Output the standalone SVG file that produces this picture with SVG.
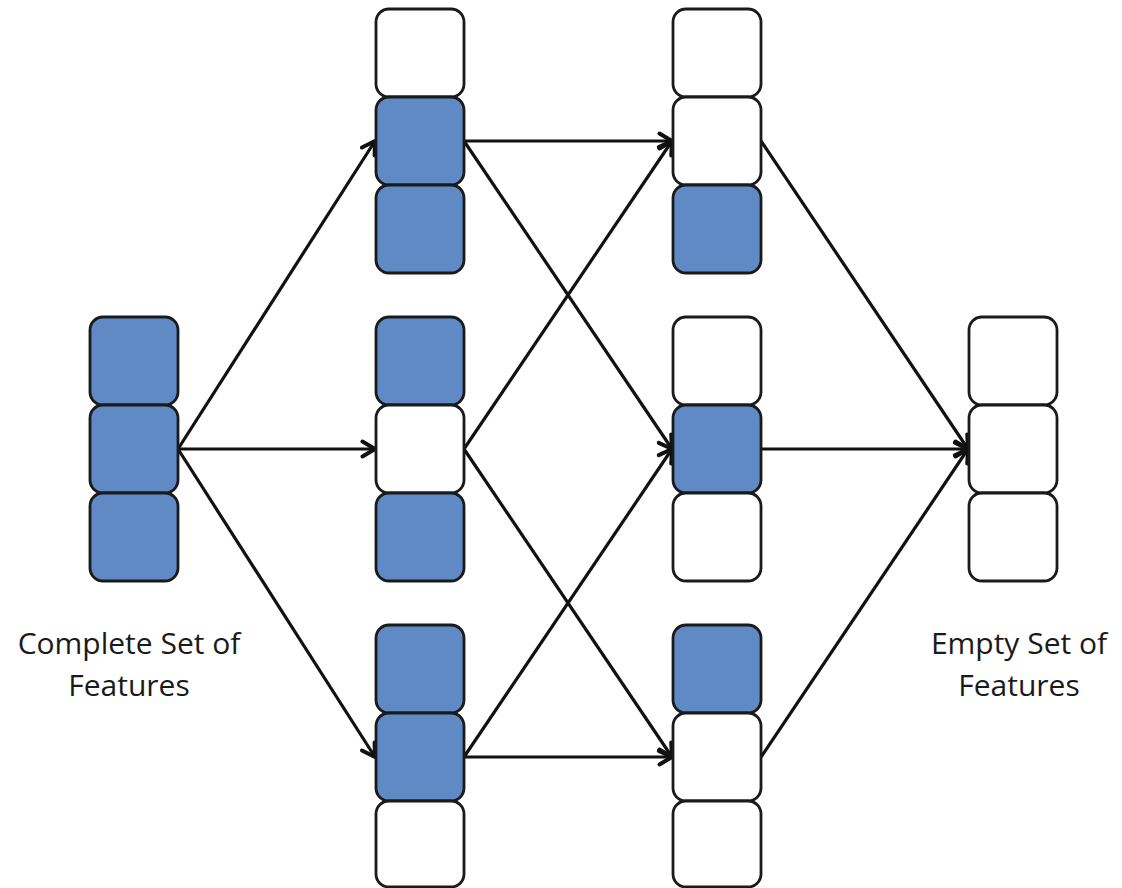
<svg xmlns="http://www.w3.org/2000/svg" width="1122" height="888" viewBox="0 0 1122 888">
<style>
.b{stroke:#1a1a1a;stroke-width:2.8}
.f{fill:#5f8ac5}
.e{fill:#ffffff}
.c{stroke:#111;stroke-width:3.2;fill:none;marker-end:url(#ah)}
text{font-family:"Open Sans","Noto Sans",sans-serif;font-size:30px;fill:#1a1a1a;text-anchor:middle}
</style>
<defs>
<marker id="ah" markerWidth="20" markerHeight="20" viewBox="-12 -8 14 16" refX="0" refY="0" orient="auto" markerUnits="userSpaceOnUse">
<path d="M-10,-6 L0,0 L-10,6" fill="none" stroke="#111" stroke-width="3.2" stroke-linecap="round" stroke-linejoin="round"/>
</marker>
</defs>
<rect width="1122" height="888" fill="#fff"/>
<g id="connectors">
<line class="c" x1="178" y1="449" x2="375" y2="141"/>
<line class="c" x1="178" y1="449" x2="375" y2="449"/>
<line class="c" x1="178" y1="449" x2="375" y2="757"/>
<line class="c" x1="464" y1="141" x2="672" y2="141"/>
<line class="c" x1="464" y1="141" x2="672" y2="449"/>
<line class="c" x1="464" y1="449" x2="672" y2="141"/>
<line class="c" x1="464" y1="449" x2="672" y2="757"/>
<line class="c" x1="464" y1="757" x2="672" y2="449"/>
<line class="c" x1="464" y1="757" x2="672" y2="757"/>
<line class="c" x1="761" y1="141" x2="968" y2="449"/>
<line class="c" x1="761" y1="449" x2="968" y2="449"/>
<line class="c" x1="761" y1="757" x2="968" y2="449"/>
</g>
<g id="complete">
<rect class="b f" x="90" y="317" width="88" height="88" rx="13"/>
<rect class="b f" x="90" y="405" width="88" height="88" rx="13"/>
<rect class="b f" x="90" y="493" width="88" height="88" rx="13"/>
</g>
<g id="c1a">
<rect class="b e" x="376" y="9" width="88" height="88" rx="13"/>
<rect class="b f" x="376" y="97" width="88" height="88" rx="13"/>
<rect class="b f" x="376" y="185" width="88" height="88" rx="13"/>
</g>
<g id="c1b">
<rect class="b f" x="376" y="317" width="88" height="88" rx="13"/>
<rect class="b e" x="376" y="405" width="88" height="88" rx="13"/>
<rect class="b f" x="376" y="493" width="88" height="88" rx="13"/>
</g>
<g id="c1c">
<rect class="b f" x="376" y="625" width="88" height="88" rx="13"/>
<rect class="b f" x="376" y="713" width="88" height="88" rx="13"/>
<rect class="b e" x="376" y="801" width="88" height="86" rx="13"/>
</g>
<g id="c2a">
<rect class="b e" x="673" y="9" width="88" height="88" rx="13"/>
<rect class="b e" x="673" y="97" width="88" height="88" rx="13"/>
<rect class="b f" x="673" y="185" width="88" height="88" rx="13"/>
</g>
<g id="c2b">
<rect class="b e" x="673" y="317" width="88" height="88" rx="13"/>
<rect class="b f" x="673" y="405" width="88" height="88" rx="13"/>
<rect class="b e" x="673" y="493" width="88" height="88" rx="13"/>
</g>
<g id="c2c">
<rect class="b f" x="673" y="625" width="88" height="88" rx="13"/>
<rect class="b e" x="673" y="713" width="88" height="88" rx="13"/>
<rect class="b e" x="673" y="801" width="88" height="86" rx="13"/>
</g>
<g id="empty">
<rect class="b e" x="969" y="317" width="88" height="88" rx="13"/>
<rect class="b e" x="969" y="405" width="88" height="88" rx="13"/>
<rect class="b e" x="969" y="493" width="88" height="88" rx="13"/>
</g>
<g id="labels">
<text x="129" y="654">Complete Set of</text>
<text x="129" y="696">Features</text>
<text x="1019" y="654">Empty Set of</text>
<text x="1019" y="696">Features</text>
</g>
</svg>
